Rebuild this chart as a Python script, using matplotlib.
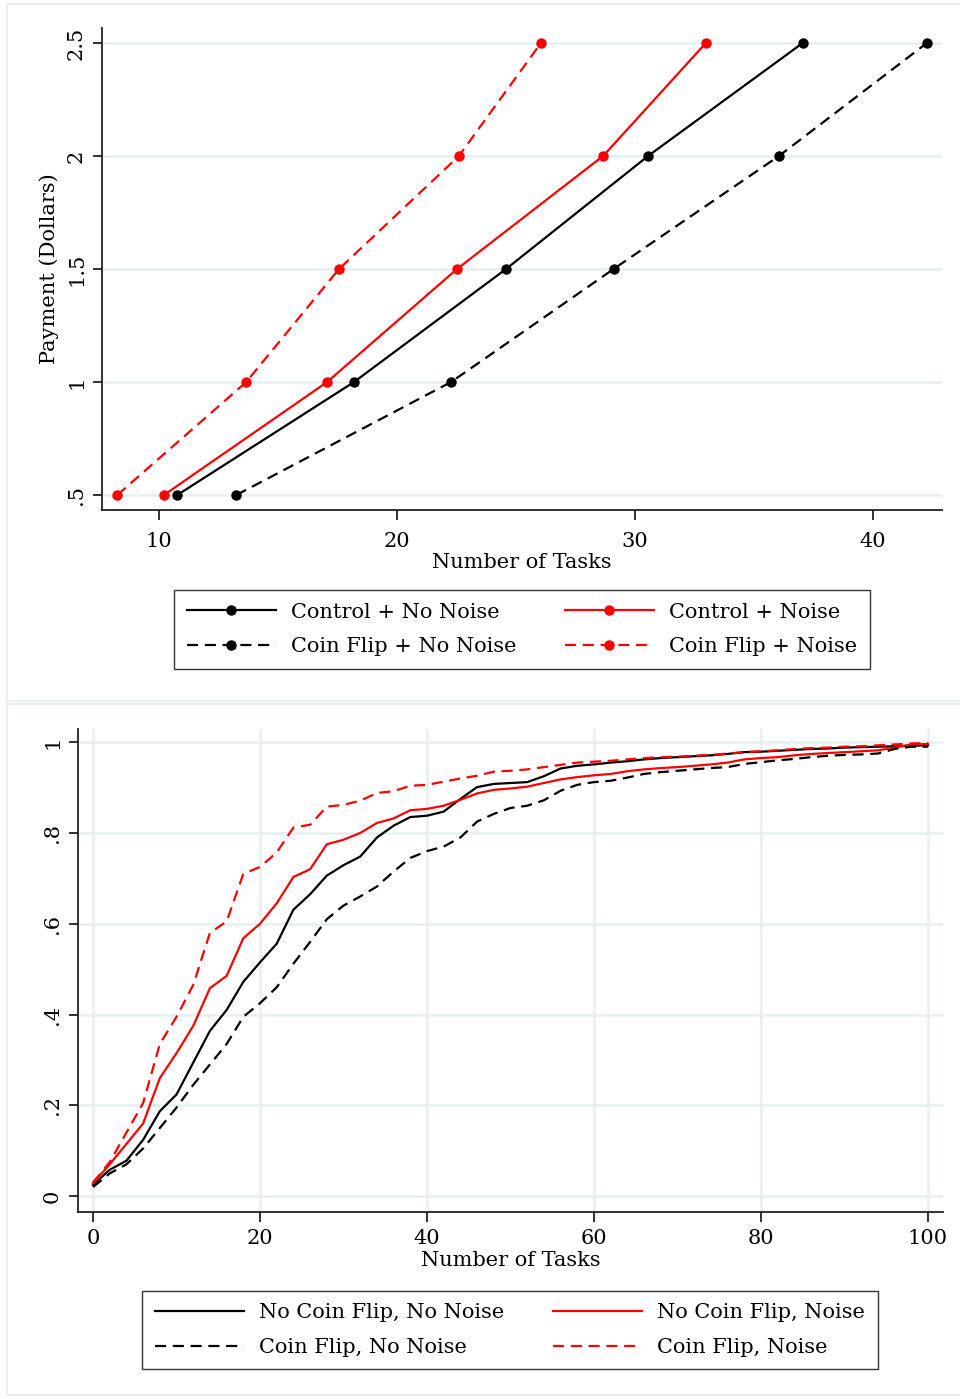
import matplotlib
matplotlib.use("Agg")
import matplotlib.pyplot as plt
from matplotlib.patches import Rectangle

plt.rcParams['font.family'] = ['DejaVu Serif']

# ---------------- Top panel data ----------------
payment = [0.5, 1.0, 1.5, 2.0, 2.5]
ctrl_nonoise = [10.76, 18.19, 24.58, 30.55, 37.05]
coin_nonoise = [13.24, 22.27, 29.1, 36.05, 42.27]
ctrl_noise = [10.2, 17.06, 22.52, 28.66, 32.98]
coin_noise = [8.24, 13.66, 17.56, 22.6, 26.05]
top_xticks = [10, 20, 30, 40]
top_yticks = [0.5, 1.0, 1.5, 2.0, 2.5]
top_yticklabels = [".5", "1", "1.5", "2", "2.5"]

# ---------------- Bottom panel data ----------------
tasks = list(range(0, 101, 2))
cdf_nocoin_nonoise = [0.025, 0.058, 0.078, 0.124, 0.187, 0.224, 0.294, 0.364, 0.41, 0.472,
                      0.515, 0.556, 0.631, 0.665, 0.706, 0.729, 0.748, 0.79, 0.816, 0.835,
                      0.838, 0.847, 0.875, 0.901, 0.908, 0.91, 0.912, 0.925, 0.942, 0.948,
                      0.951, 0.955, 0.958, 0.962, 0.965, 0.967, 0.969, 0.971, 0.974, 0.978,
                      0.979, 0.981, 0.983, 0.985, 0.986, 0.988, 0.989, 0.99, 0.991, 0.992,
                      0.993]
cdf_coin_nonoise = [0.02, 0.05, 0.07, 0.105, 0.15, 0.195, 0.245, 0.29, 0.335, 0.395,
                    0.425, 0.46, 0.512, 0.56, 0.61, 0.64, 0.66, 0.682, 0.715, 0.745,
                    0.76, 0.77, 0.79, 0.825, 0.842, 0.855, 0.86, 0.872, 0.893, 0.906,
                    0.912, 0.915, 0.922, 0.93, 0.934, 0.937, 0.94, 0.943, 0.945, 0.952,
                    0.956, 0.96, 0.963, 0.967, 0.97, 0.972, 0.973, 0.975, 0.985, 0.99,
                    0.99]
cdf_nocoin_noise = [0.028, 0.07, 0.115, 0.16, 0.26, 0.315, 0.375, 0.458, 0.485, 0.568,
                    0.6, 0.645, 0.703, 0.72, 0.775, 0.785, 0.8, 0.822, 0.832, 0.85,
                    0.853, 0.86, 0.873, 0.887, 0.895, 0.898, 0.902, 0.91, 0.918, 0.923,
                    0.927, 0.93, 0.936, 0.94, 0.943, 0.945, 0.948, 0.951, 0.955, 0.962,
                    0.965, 0.967, 0.971, 0.974, 0.976, 0.978, 0.98, 0.982, 0.988, 0.995,
                    0.996]
cdf_coin_noise = [0.03, 0.075, 0.14, 0.205, 0.335, 0.395, 0.465, 0.58, 0.605, 0.71,
                  0.725, 0.757, 0.812, 0.818, 0.858, 0.862, 0.871, 0.888, 0.892, 0.904,
                  0.906, 0.913, 0.92, 0.926, 0.935, 0.937, 0.94, 0.945, 0.95, 0.955,
                  0.957, 0.959, 0.962, 0.965, 0.967, 0.968, 0.97, 0.972, 0.975, 0.978,
                  0.98, 0.982, 0.985, 0.987, 0.988, 0.99, 0.991, 0.993, 0.995, 0.997,
                  0.998]
bot_xticks = [0, 20, 40, 60, 80, 100]
bot_yticks = [0, 0.2, 0.4, 0.6, 0.8, 1.0]
bot_yticklabels = ["0", ".2", ".4", ".6", ".8", "1"]

W, H = 960, 1399
fig = plt.figure(figsize=(W / 100, H / 100), dpi=100)
fig.patch.set_facecolor("white")

GRID = "#e8eff1"
FS = 15
DASH = (5, 3)

# panel frames
for (y0, y1) in [(4, 701), (704, 1395)]:
    fig.patches.append(Rectangle((7 / W, 1 - y1 / H), 1.0, (y1 - y0) / H,
                                 transform=fig.transFigure, fill=False,
                                 edgecolor=GRID, linewidth=1.5))


def px_axes(l, t, r, b):
    return fig.add_axes([l / W, 1 - b / H, (r - l) / W, (b - t) / H])


def style(ax, xpad):
    for s in ["top", "right"]:
        ax.spines[s].set_visible(False)
    for s in ["left", "bottom"]:
        ax.spines[s].set_linewidth(1.3)
        ax.spines[s].set_color("#222222")
    ax.tick_params(axis="both", direction="out", width=1.3,
                   color="#222222", labelsize=FS)
    ax.tick_params(axis="y", length=6.5, pad=5)
    ax.tick_params(axis="x", length=7.2, pad=xpad)


# ---------------- Top ----------------
ax1 = px_axes(102, 28, 942, 510)
style(ax1, 8.6)
ax1.set_xlim(7.6, 42.9)
ax1.set_ylim(0.434, 2.566)
ax1.set_xticks(top_xticks)
ax1.set_yticks(top_yticks)
ax1.set_yticklabels(top_yticklabels, rotation=90, va="center")
ax1.yaxis.grid(True, color=GRID, linewidth=1.8)
ax1.set_axisbelow(True)

ms = 6.5
h1, = ax1.plot(ctrl_nonoise, payment, color="black", lw=1.6, marker="o", ms=ms,
               label="Control + No Noise")
h2, = ax1.plot(ctrl_noise, payment, color="red", lw=1.6, marker="o", ms=ms,
               label="Control + Noise")
h3, = ax1.plot(coin_nonoise, payment, color="black", lw=1.6, marker="o", ms=ms,
               dashes=DASH, label="Coin Flip + No Noise")
h4, = ax1.plot(coin_noise, payment, color="red", lw=1.6, marker="o", ms=ms,
               dashes=DASH, label="Coin Flip + Noise")
for h in (h1, h2, h3, h4):
    h.set_clip_on(False)

ax1.set_xlabel("Number of Tasks", fontsize=FS, labelpad=1.5)
ax1.set_ylabel("Payment (Dollars)", fontsize=FS, labelpad=6)

leg_kw = dict(ncol=2, loc="center", fontsize=FS, frameon=True, fancybox=False,
              edgecolor="black", handlelength=4.3, columnspacing=2.3,
              handletextpad=0.72, labelspacing=0.75, borderpad=0.6)
leg1 = fig.legend(handles=[h1, h3, h2, h4],
                  bbox_to_anchor=(522 / W, 1 - 629.5 / H), **leg_kw)
leg1.get_frame().set_linewidth(1.0)

# ---------------- Bottom ----------------
ax2 = px_axes(78, 729, 943, 1212)
style(ax2, 5.4)
ax2.set_xlim(-1.8, 101.8)
ax2.set_ylim(-0.035, 1.029)
ax2.set_xticks(bot_xticks)
ax2.set_yticks(bot_yticks)
ax2.set_yticklabels(bot_yticklabels, rotation=90, va="center")
ax2.grid(True, color=GRID, linewidth=1.8)
ax2.set_axisbelow(True)

g1, = ax2.plot(tasks, cdf_nocoin_nonoise, color="black", lw=1.6,
               label="No Coin Flip, No Noise")
g2, = ax2.plot(tasks, cdf_nocoin_noise, color="red", lw=1.6,
               label="No Coin Flip, Noise")
g3, = ax2.plot(tasks, cdf_coin_nonoise, color="black", lw=1.6, dashes=DASH,
               label="Coin Flip, No Noise")
g4, = ax2.plot(tasks, cdf_coin_noise, color="red", lw=1.6, dashes=DASH,
               label="Coin Flip, Noise")
ax2.set_xlabel("Number of Tasks", fontsize=FS, labelpad=2)

leg2 = fig.legend(handles=[g1, g3, g2, g4],
                  bbox_to_anchor=(510 / W, 1 - 1330 / H), **leg_kw)
leg2.get_frame().set_linewidth(1.0)

fig.savefig("out.png", dpi=100)
